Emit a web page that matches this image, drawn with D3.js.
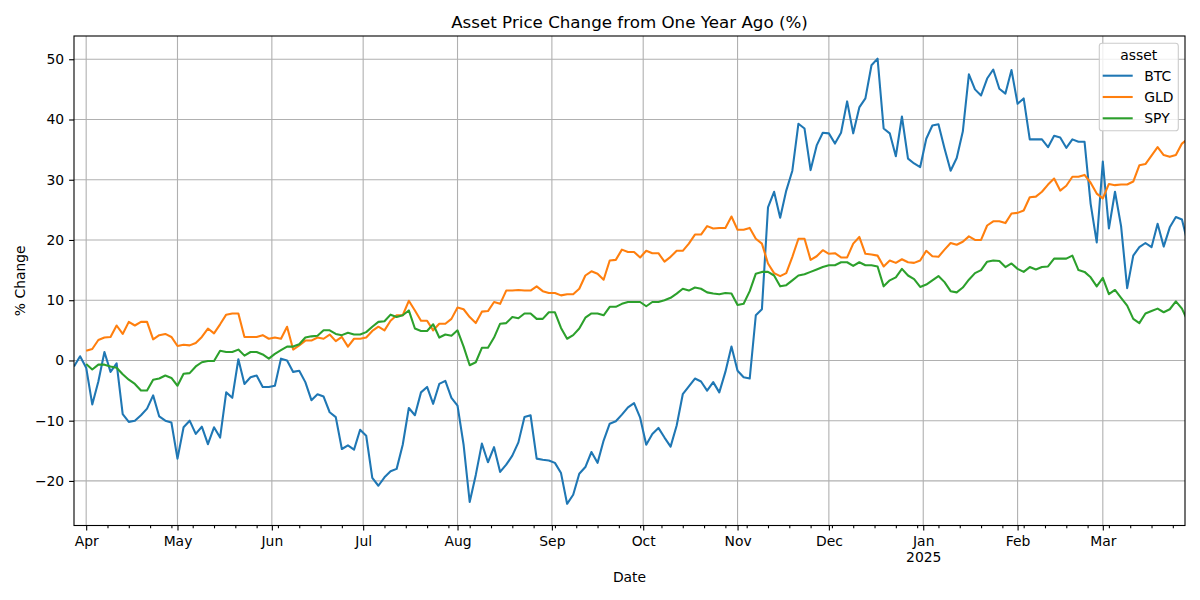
<!DOCTYPE html>
<html>
<head>
<meta charset="utf-8">
<script src="https://d3js.org/d3.v7.min.js"></script>
<style>
body { margin:0; background:#fff; }
svg { display:block; font-family:"DejaVu Sans", sans-serif; }
</style>
</head>
<body>
<svg id="chart" width="1200" height="600"></svg>
<script>
// Asset price change vs one year ago
//====================================
// Readings are taken every STEP days starting at START. GLD and SPY have
// no value for the first two readings (null), so their lines start later.

var START = new Date(2024, 2, 28);
var END = new Date(2025, 2, 28);
var STEP = 2;

var ASSETS = ["BTC", "GLD", "SPY"];
var COLORS = ["#1f77b4", "#ff7f0e", "#2ca02c"];
var YTICKS = [-20, -10, 0, 10, 20, 30, 40, 50];

var btc = [
	-1.0, 0.7, -1.2, -7.3, -3.5, 1.4, -1.9, -0.5, -8.9, -10.2,
	-10.0, -9.1, -8.0, -5.8, -9.3, -10.0, -10.3, -16.3, -11.1, -10.0,
	-12.2, -11.0, -13.9, -11.1, -12.8, -5.3, -6.2, 0.2, -3.9, -2.8,
	-2.5, -4.4, -4.4, -4.2, 0.3, 0.0, -1.9, -1.7, -3.6, -6.6,
	-5.6, -6.0, -8.6, -9.4, -14.7, -14.1, -14.8, -11.5, -12.5, -19.5,
	-20.8, -19.4, -18.4, -18.0, -14.0, -7.9, -9.1, -5.3, -4.4, -7.2,
	-3.9, -3.4, -6.2, -7.5, -14.0, -23.5, -19.0, -13.8, -16.9, -14.4,
	-18.5, -17.3, -15.8, -13.6, -9.4, -9.1, -16.3, -16.5, -16.6, -17.0,
	-18.7, -23.8, -22.3, -18.8, -17.7, -15.2, -17.0, -13.3, -10.5, -10.1,
	-9.0, -7.8, -7.1, -9.5, -14.0, -12.2, -11.2, -12.8, -14.3, -10.8,
	-5.6, -4.3, -3.0, -3.5, -5.0, -3.6, -5.3, -1.9, 2.3, -1.7,
	-2.8, -3.0, 7.5, 8.5, 25.4, 28.0, 23.7, 28.2, 31.5, 39.3,
	38.5, 31.6, 35.7, 37.8, 37.7, 36.0, 37.8, 43.0, 37.7, 42.0,
	43.5, 49.0, 50.1, 38.5, 37.7, 33.9, 40.5, 33.5, 32.7, 32.1,
	36.8, 39.0, 39.2, 35.2, 31.5, 33.6, 38.0, 47.5, 45.0, 44.0,
	46.8, 48.3, 45.1, 44.3, 48.2, 42.6, 43.5, 36.7, 36.7, 36.7,
	35.4, 37.3, 37.0, 35.3, 36.7, 36.3, 36.3, 26.0, 19.6, 33.0,
	21.9, 28.0, 22.3, 12.0, 17.4, 18.8, 19.5, 18.8, 22.7, 18.9,
	22.1, 23.8, 23.4, 19.3
];

var gld = [
	null, null, 1.6, 1.9, 3.4, 3.8, 3.9, 5.8, 4.4, 6.4,
	5.8, 6.4, 6.4, 3.5, 4.2, 4.4, 3.9, 2.4, 2.6, 2.5,
	2.9, 3.9, 5.3, 4.5, 6.0, 7.6, 7.8, 7.8, 3.9, 3.9,
	3.9, 4.2, 3.6, 3.8, 3.6, 5.6, 1.8, 2.5, 3.3, 3.3,
	3.8, 3.6, 4.3, 3.2, 3.9, 2.3, 3.6, 3.6, 3.8, 4.9,
	5.6, 5.0, 6.6, 7.5, 7.5, 9.9, 8.3, 6.6, 6.6, 5.0,
	6.1, 6.1, 6.9, 8.8, 8.5, 7.2, 6.2, 8.1, 8.2, 9.7,
	9.4, 11.6, 11.6, 11.7, 11.6, 11.6, 12.3, 11.5, 11.2, 11.2,
	10.8, 11.0, 11.0, 11.9, 14.1, 14.8, 14.4, 13.4, 16.6, 16.7,
	18.4, 18.0, 18.0, 17.1, 18.2, 17.8, 17.8, 16.4, 17.2, 18.2,
	18.2, 19.4, 20.9, 20.9, 22.3, 21.9, 22.0, 22.0, 23.9, 21.7,
	21.7, 22.0, 20.2, 19.4, 16.1, 14.5, 14.0, 14.5, 17.2, 20.2,
	20.2, 16.7, 17.3, 18.3, 17.7, 17.8, 17.1, 17.1, 19.4, 20.5,
	17.7, 17.6, 17.4, 15.6, 16.6, 16.2, 16.8, 16.3, 16.2, 16.6,
	18.2, 17.3, 17.2, 18.4, 19.5, 19.2, 19.7, 20.6, 20.0, 20.0,
	22.4, 23.1, 23.1, 22.8, 24.4, 24.5, 24.9, 27.1, 27.2, 28.0,
	29.2, 30.2, 28.2, 29.0, 30.5, 30.5, 30.8, 29.5, 27.7, 26.9,
	29.3, 29.1, 29.2, 29.2, 29.7, 32.4, 32.6, 34.0, 35.4, 34.1,
	33.8, 34.1, 36.0, 36.8
];

var spy = [
	null, null, -0.6, -1.5, -0.7, -0.7, -1.0, -1.2, -2.3, -3.2,
	-3.9, -5.0, -5.0, -3.2, -3.0, -2.5, -2.9, -4.2, -2.2, -2.1,
	-1.0, -0.3, -0.1, -0.1, 1.6, 1.4, 1.4, 1.8, 0.8, 1.4,
	1.4, 1.0, 0.3, 1.1, 1.7, 2.3, 2.3, 2.7, 3.8, 4.0,
	4.1, 5.0, 5.0, 4.4, 4.2, 4.6, 4.3, 4.3, 4.7, 5.6,
	6.4, 6.5, 7.6, 7.2, 7.5, 8.3, 5.3, 4.9, 4.9, 6.0,
	3.8, 4.3, 4.1, 5.0, 2.3, -0.8, -0.3, 2.1, 2.1, 3.8,
	6.1, 6.2, 7.2, 7.0, 7.8, 7.8, 6.9, 6.9, 8.0, 8.0,
	5.4, 3.6, 4.2, 5.3, 7.1, 7.8, 7.8, 7.5, 8.9, 8.9,
	9.4, 9.7, 9.7, 9.7, 9.0, 9.7, 9.7, 10.0, 10.4, 11.1,
	11.9, 11.6, 12.1, 11.9, 11.3, 11.1, 11.0, 11.2, 11.1, 9.2,
	9.4, 11.5, 14.4, 14.7, 14.7, 14.1, 12.3, 12.5, 13.3, 14.1,
	14.3, 14.7, 15.1, 15.5, 15.8, 15.8, 16.3, 16.3, 15.7, 16.3,
	15.8, 15.8, 15.6, 12.3, 13.3, 13.8, 15.2, 14.1, 13.5, 12.2,
	12.6, 13.3, 14.0, 13.0, 11.5, 11.3, 12.1, 13.4, 14.5, 15.0,
	16.4, 16.6, 16.5, 15.5, 16.1, 15.2, 14.7, 15.5, 15.1, 15.5,
	15.6, 16.9, 16.9, 16.9, 17.4, 15.0, 14.7, 13.8, 12.3, 13.7,
	11.0, 11.7, 10.4, 9.1, 6.9, 6.2, 7.8, 8.2, 8.6, 8.0,
	8.5, 9.8, 8.6, 6.4
];

var SERIES = [btc, gld, spy];

var FS = 13.9; // 10pt in px
var box = {left:74, right:1185, top:36, bottom:525.5};

var svg = d3.select("#chart");

var x = d3.scaleTime().domain([START, END]).range([box.left, box.right]);
var y = d3.scaleLinear().domain([-27.4, 53.86]).range([box.bottom, box.top]);

var months = d3.timeMonth.range(d3.timeMonth.ceil(START), END);
var mondays = d3.timeMonday.range(START, END).filter(d => d.getDate() != 1);

// grid
var grid = svg.append("g").attr("stroke", "#b0b0b0").attr("stroke-width", 1.1);
grid.selectAll("line.vg").data(months).enter().append("line")
	.attr("x1", d => x(d)).attr("x2", d => x(d))
	.attr("y1", box.top).attr("y2", box.bottom);
grid.selectAll("line.hg").data(YTICKS).enter().append("line")
	.attr("x1", box.left).attr("x2", box.right)
	.attr("y1", d => y(d)).attr("y2", d => y(d));

// lines
svg.append("clipPath").attr("id", "plotclip").append("rect")
	.attr("x", box.left).attr("y", box.top)
	.attr("width", box.right - box.left).attr("height", box.bottom - box.top);

var line = d3.line()
	.defined(d => d[1] != null)
	.x(d => x(d[0]))
	.y(d => y(d[1]));

function toPoints(vals) {
	return vals.map((v, i) => [d3.timeDay.offset(START, i * STEP), v]);
}

svg.append("g").attr("clip-path", "url(#plotclip)")
	.selectAll("path").data(SERIES).enter().append("path")
	.attr("d", d => line(toPoints(d)))
	.attr("fill", "none")
	.attr("stroke", (d, i) => COLORS[i])
	.attr("stroke-width", 2.08)
	.attr("stroke-linejoin", "round");

// axes
var xAxis = svg.append("g").attr("transform", "translate(0," + box.bottom + ")")
	.call(d3.axisBottom(x).tickValues(months).tickFormat(d3.timeFormat("%b"))
		.tickSize(4.9).tickPadding(5.5).tickSizeOuter(0));
xAxis.selectAll("text").filter(d => d.getMonth() == 0)
	.append("tspan").attr("x", 0).attr("dy", "1.15em").text(d => d.getFullYear());

svg.append("g").attr("transform", "translate(0," + box.bottom + ")")
	.call(d3.axisBottom(x).tickValues(mondays).tickFormat("").tickSize(2.8).tickSizeOuter(0));

svg.append("g").attr("transform", "translate(" + box.left + ",0)")
	.call(d3.axisLeft(y).tickValues(YTICKS)
		.tickFormat(d => d < 0 ? "\u2212" + Math.abs(d) : d)
		.tickSize(4.9).tickPadding(4.9).tickSizeOuter(0));

svg.selectAll(".domain").remove();
svg.selectAll(".tick line").attr("stroke", "#000").attr("stroke-width", 1.1);
svg.selectAll(".tick text")
	.attr("fill", "#000")
	.style("font-family", "DejaVu Sans")
	.style("font-size", FS + "px");

// spines
svg.append("rect")
	.attr("x", box.left).attr("y", box.top)
	.attr("width", box.right - box.left).attr("height", box.bottom - box.top)
	.attr("fill", "none").attr("stroke", "#000").attr("stroke-width", 1.1);

// labels
var midx = (box.left + box.right) / 2;
svg.append("text").attr("x", midx).attr("y", 28)
	.attr("text-anchor", "middle").style("font-size", "16.7px")
	.text("Asset Price Change from One Year Ago (%)");
svg.append("text").attr("x", midx).attr("y", 582)
	.attr("text-anchor", "middle").style("font-size", FS + "px")
	.text("Date");
svg.append("text")
	.attr("transform", "translate(25," + ((box.top + box.bottom) / 2) + ") rotate(-90)")
	.attr("text-anchor", "middle").style("font-size", FS + "px")
	.text("% Change");

// legend
var lg = svg.append("g");
lg.append("rect")
	.attr("x", 1099.3).attr("y", 43.3).attr("width", 79).attr("height", 87.4)
	.attr("rx", 2.8)
	.attr("fill", "#fff").attr("fill-opacity", 0.8)
	.attr("stroke", "#cccccc").attr("stroke-width", 1.1);
lg.append("text").attr("x", 1138.8).attr("y", 60)
	.attr("text-anchor", "middle").style("font-size", FS + "px")
	.text("asset");
var items = lg.selectAll("g.item").data(ASSETS).enter().append("g")
	.attr("transform", (d, i) => "translate(0," + (75.7 + 21.3 * i) + ")");
items.append("line")
	.attr("x1", 1102.7).attr("x2", 1132.7).attr("y1", 0).attr("y2", 0)
	.attr("stroke", (d, i) => COLORS[i]).attr("stroke-width", 2.08);
items.append("text").attr("x", 1144.3).attr("y", 5)
	.style("font-size", FS + "px")
	.text(d => d);
</script>
</body>
</html>
